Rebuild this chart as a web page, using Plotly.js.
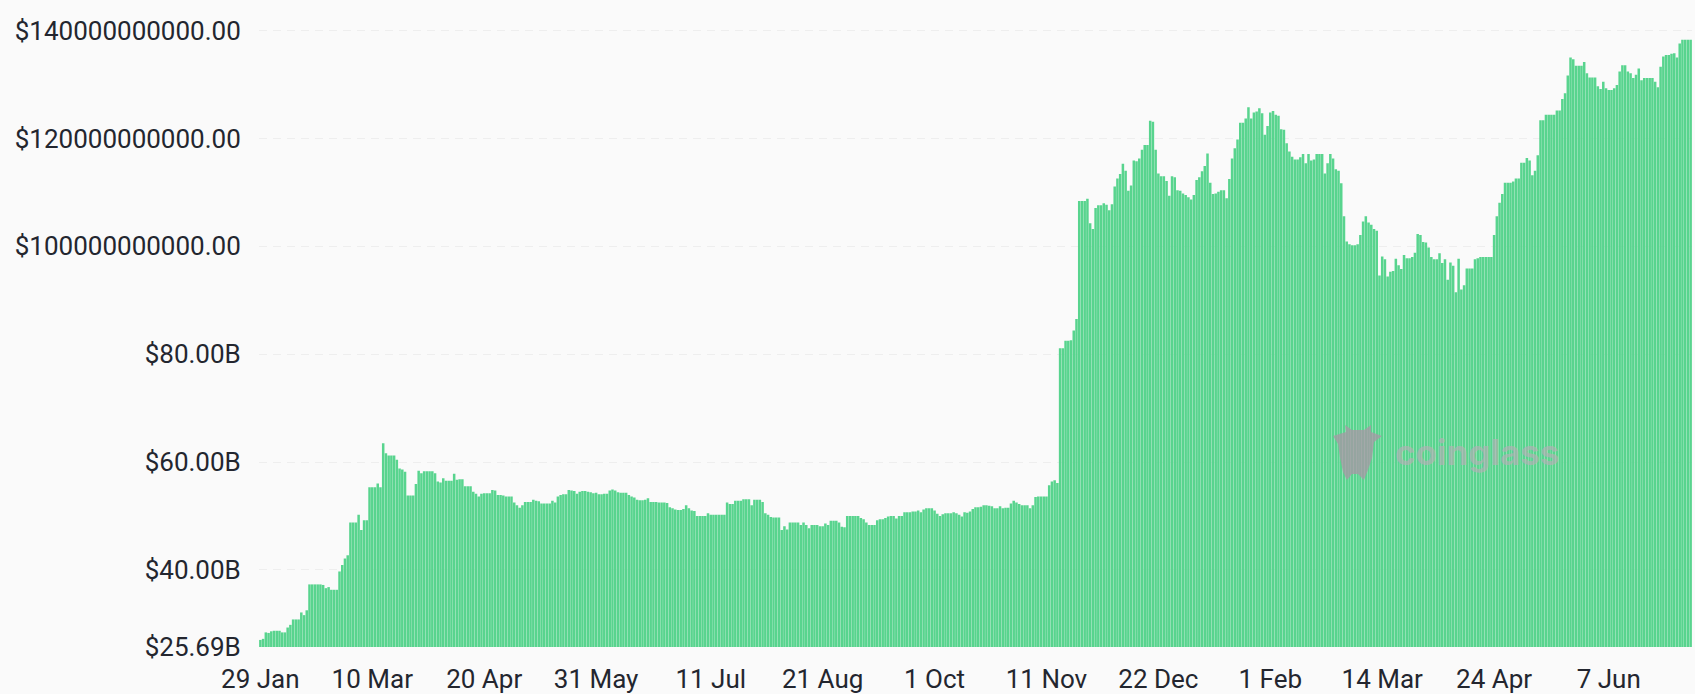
<!DOCTYPE html>
<html>
<head>
<meta charset="utf-8">
<script src="https://cdn.plot.ly/plotly-3.0.1.min.js"></script>
<style>html,body{margin:0;padding:0;background:#fafafa;overflow:hidden}#c{width:1695px;height:694px}</style>
</head>
<body>
<div id="c"></div>
<script>
// Values in billions of USD, one bar per day
const riseEarly2024 = [27.0,27.2,28.4,28.3,28.6,28.7,28.7,28.7,28.4,28.4,29.3,29.8,30.8,30.8,30.8,32.1,31.6,32.5,37.3,37.3,37.3,37.3,37.3,37.2,36.6,36.8,36.3,36.3,36.3,39.7,40.9,42.1,42.7,48.8,48.8,48.8,50.2,47.4,49.2,49.2,55.3,55.3,55.3,56.0,55.3,63.5,61.6,61.2,61.2,61.2,60.4,58.8,58.6,58.2,53.8,53.8,53.8,55.9,58.4,57.9,58.3,58.3,58.3,58.3,57.9,56.4,56.2,57.0,56.5,56.5,56.5,57.8,56.7,56.8,56.8,55.5,55.5,55.5,54.5,54.1,53.6,54.1,54.2,54.2,54.2,54.8,54.7,53.9,53.9,53.8];
const plateauMid2024 = [53.6,53.6,53.6,52.5,52.0,51.5,52.0,52.6,52.6,52.6,53.0,52.8,52.7,52.3,52.3,52.3,52.3,52.8,52.5,53.6,53.9,54.0,54.0,54.8,54.7,54.6,54.1,54.5,54.6,54.6,54.5,54.4,54.2,54.3,54.0,54.0,54.1,54.1,54.7,54.9,54.7,54.4,54.3,54.3,54.3,53.9,53.6,53.4,53.0,52.9,52.9,53.0,53.3,52.6,52.6,52.6,52.5,52.5,52.5,52.4,51.6,51.4,51.2,51.1,51.1,51.3,52.0,51.4,51.0,50.9,50.0,50.0,50.0,50.0,50.5,50.2,50.2,50.2,50.2,50.2,50.2,52.5,52.2,52.2,52.8,52.8,52.8,53.1,53.1,53.1,52.0,53.0,53.0,53.0,52.6,50.5,50.2,49.8,49.7];
const lowAutumn2024 = [49.7,49.7,47.4,48.1,47.5,48.8,48.8,48.8,48.8,48.3,48.8,48.3,47.7,48.3,48.3,48.3,48.1,48.1,48.6,48.3,49.1,49.1,49.1,48.8,48.0,47.9,50.0,50.0,50.0,50.0,50.0,49.6,49.4,48.8,48.3,48.3,48.3,49.2,49.4,49.4,49.6,49.9,50.0,50.0,49.5,50.0,50.0,50.7,50.7,50.7,50.8,50.8,51.0,50.7,51.2,51.4,51.4,51.4,51.0,50.4,50.0,50.3,50.5,50.5,50.5,50.7,50.5,50.2,49.9,50.7,50.6,50.8,51.3,51.6,51.6,51.7,52.0,52.0,51.9,51.8,51.4,51.4,51.8,51.4,51.5,51.5,52.3,52.8,52.5,52.2,52.0,52.0,52.0,51.4,52.0,53.5,53.6,53.6,53.6,53.6,55.7,56.4,56.6,56.1];
const jumpAndWinter = [81.1,81.1,82.5,82.5,82.6,84.4,86.5,108.4,108.4,108.4,108.8,104.3,103.2,107.1,107.6,107.6,108.0,107.7,106.7,107.8,111.1,112.6,113.4,115.3,114.0,110.3,111.3,115.9,115.8,116.3,117.9,118.8,118.8,123.3,123.1,117.9,113.5,113.0,113.0,112.1,109.4,113.0,112.8,110.4,110.3,109.8,109.5,109.1,108.7,109.5,112.3,112.8,113.9,114.9,117.2,111.8,109.7,109.8,110.1,110.4,110.4,108.9,112.5,116.3,118.2,119.8,122.9,122.9,123.7,125.8,123.7,124.8,125.0,125.6,124.7,120.7,122.3,124.8,125.1,124.4,124.2,121.7,121.6,119.1,117.6,116.6,116.1,116.1,116.5];
const declineSpring2025 = [117.1,115.4,117.1,115.9,116.1,117.1,117.1,117.1,113.5,115.4,117.1,116.3,114.3,114.0,111.7,105.6,100.9,100.4,100.2,100.2,100.4,102.1,104.6,105.6,104.4,104.0,103.2,102.9,94.6,98.1,97.6,94.4,95.3,95.4,97.7,96.5,95.8,98.4,97.8,97.8,98.0,98.8,102.3,102.1,100.8,100.7,99.8,98.0,97.6,97.6,98.7,96.9,97.6,93.8,97.0,96.4,91.5,97.7,92.0,92.8,95.9,95.9,95.9,97.6,97.8,98.0,98.0,98.0,98.0,98.0];
const recoverySummer2025 = [102.1,105.6,108.1,109.7,111.8,111.8,111.8,112.0,112.6,112.6,115.5,115.5,116.4,115.9,113.2,114.0,116.9,123.4,123.4,124.4,124.4,124.4,124.4,125.2,125.2,127.3,128.4,131.7,135.0,134.7,133.5,133.5,133.5,134.2,132.1,131.3,131.3,131.3,129.7,129.2,130.5,129.3,129.0,129.0,129.3,129.9,132.4,133.6,133.6,132.4,132.1,131.2,131.8,133.0,130.8,131.2,131.2,131.2,131.2,130.5,129.5,133.3,135.2,135.5,135.5,135.7,135.8,135.0,137.6,138.3,138.3,138.3,138.3];

const values = [].concat(riseEarly2024, plateauMid2024, lowAutumn2024, jumpAndWinter, declineSpring2025, recoverySummer2025);

const xTickLabels = ['29 Jan','10 Mar','20 Apr','31 May','11 Jul','21 Aug','1 Oct','11 Nov','22 Dec','1 Feb','14 Mar','24 Apr','7 Jun'];
const xTickBars = [0,41,82,123,165,206,247,288,329,370,411,452,494];
const yTickValues = [25.69,40,60,80,100,120,140];
const yTickLabels = ['$25.69B','$40.00B','$60.00B','$80.00B','$100000000000.00','$120000000000.00','$140000000000.00'];

const W = 1695, H = 694, L = 259, R = 3, T = 28, B = 47;
const px = (x, y) => ((x - L) / (W - L - R)).toFixed(4) + ',' + ((H - B - y) / (H - T - B)).toFixed(4);
const logo = [[1333,436],[1346,432],[1345,425],[1352,430],[1364,430],[1371,425],[1371,432],[1382,436],[1374,442],[1372,458],[1368,470],[1364,480],[1358,474],[1352,474],[1347,480],[1343,472],[1340,458],[1338,444]];
const logoPath = 'M' + logo.map(p => px(p[0], p[1])).join(' L') + ' Z';

const font = {family: 'Roboto, "Noto Sans", sans-serif', size: 26, color: '#23262f'};

Plotly.newPlot('c', [{
  type: 'bar',
  x: values.map((_, i) => i),
  y: values,
  marker: {color: '#58d48e', line: {width: 0}},
  hoverinfo: 'skip'
}], {
  width: W, height: H,
  margin: {l: L, r: R, t: T, b: B, pad: 0},
  paper_bgcolor: '#fafafa',
  plot_bgcolor: '#fafafa',
  bargap: 0.08,
  showlegend: false,
  xaxis: {
    type: 'linear',
    range: [-0.5, values.length - 0.5],
    tickmode: 'array',
    tickvals: xTickBars,
    ticktext: xTickLabels,
    ticks: 'outside', ticklen: 9, tickcolor: 'rgba(0,0,0,0)',
    showgrid: false, zeroline: false, showline: false,
    tickfont: font
  },
  yaxis: {
    type: 'linear',
    range: [25.69, 140.49],
    tickmode: 'array',
    tickvals: yTickValues,
    ticktext: yTickLabels,
    ticks: 'outside', ticklen: 12, tickcolor: 'rgba(0,0,0,0)',
    showgrid: true, gridcolor: '#eeeeee', griddash: '8px,6px', gridwidth: 1,
    zeroline: false, showline: false,
    tickfont: font
  },
  shapes: [{
    type: 'path', xref: 'paper', yref: 'paper', layer: 'above',
    path: logoPath, fillcolor: 'rgba(170,150,165,0.75)', line: {width: 0}
  }],
  annotations: [{
    xref: 'paper', yref: 'paper',
    x: (1393 - L) / (W - L - R), y: (H - B - 452) / (H - T - B),
    xanchor: 'left', yanchor: 'middle', showarrow: false,
    text: 'coinglass',
    font: {family: 'Inter, "Noto Sans", sans-serif', size: 35, weight: 700, color: 'rgba(190,170,185,0.6)'}
  }]
}, {displayModeBar: false, staticPlot: true});
</script>
</body>
</html>
